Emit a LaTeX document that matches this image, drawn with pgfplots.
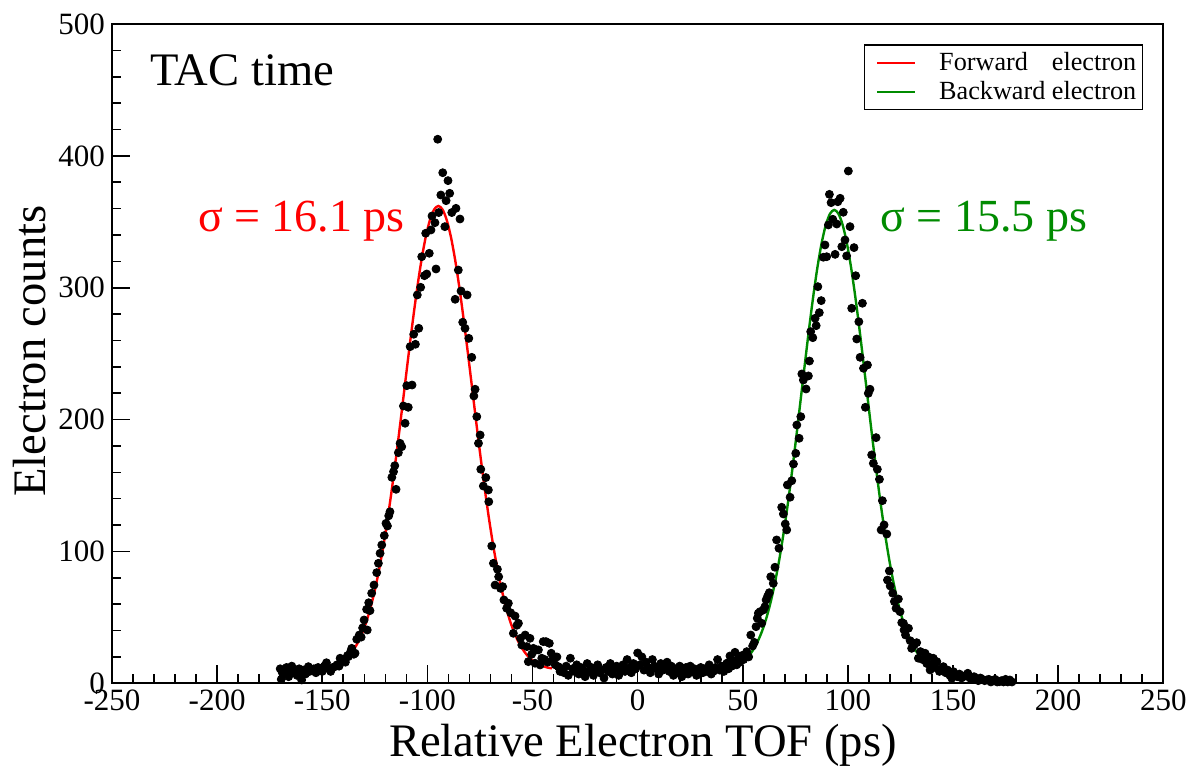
\documentclass[border=0pt]{standalone}
\usepackage{fontspec}
\setmainfont{Liberation Serif}
\usepackage{pgfplots}
\usepackage{pgfplotstable}
\pgfplotsset{compat=1.18}
\definecolor{fitred}{RGB}{255,0,0}
\definecolor{fitgreen}{RGB}{0,139,0}

\pgfplotstableread{
x y
-170 11
-169.5 3
-169 8
-168 7
-167 12
-166 5
-165 9
-164.5 13
-164 10
-163 8
-162 6
-161 11
-160 9
-159.8 2.5
-159 10
-158 7
-157 11
-156.6 12.6
-156 9
-155 10
-154 11
-153 8
-152 12
-151 10
-150 9
-149 13
-148 15.6
-147 11
-146 9
-145 12
-144 12.6
-143 14
-142 13
-141.5 19
-140 17
-139 16
-138 21
-137.6 20.2
-136.5 24
-136 26.5
-135 22
-134.4 22.8
-133.6 33.4
-132.4 36.6
-131.5 35
-130.8 42
-130.1 48
-128.9 56.1
-128.6 40.4
-127.9 61.1
-127.3 55.1
-126.5 68.3
-125.4 74.5
-124.1 83.9
-123.3 91.0
-122.5 98.6
-121.7 104.9
-120.5 112
-119.7 121.3
-119.0 119.3
-118.4 127
-117.8 130.1
-116.9 156.2
-116.1 160.5
-115.5 165
-114.9 147.1
-113.8 174.9
-113.0 182.0
-112.2 179.4
-111.4 210.3
-110.6 197.2
-109.8 225.7
-109.1 209.3
-108.2 255.3
-107.3 226.2
-106.5 264.7
-105.7 257.1
-104.8 294.5
-104.1 269.2
-103.2 300.3
-102.7 323.5
-101.4 309.1
-100.8 341.3
-100.3 310.4
-99.1 326.1
-98.3 343.8
-97.8 354.4
-96.4 349.3
-95.9 314.2
-95.1 412.6
-94.6 357.0
-93.6 370.3
-92.7 387.2
-91.7 346.3
-91.1 366.0
-90.2 381.2
-89.4 371.6
-88.4 357.0
-86.8 291.2
-86.4 360.2
-85.3 313.4
-84.5 352.1
-84.0 297.5
-83.2 273.8
-82.1 269.2
-81.1 294.5
-80.3 261.6
-78.9 247.2
-77.9 217.9
-77.3 223.0
-76.5 202.2
-75.7 182.0
-74.9 188.3
-74.6 162.3
-73.4 149.6
-72.2 156
-71.0 146.6
-70.8 137.7
-69.4 104.1
-68.6 91.0
-67.8 74.5
-66.7 86.5
-66.1 80.8
-65.2 72
-64.2 73.3
-63.6 63.2
-62.3 56.9
-61.5 60.7
-60.4 53.5
-59.1 37.9
-58.3 51.0
-57.4 44
-56.7 45.5
-55.7 34.1
-55.1 29.0
-53.5 36.6
-52.7 27.8
-52.0 16.4
-51.2 34.1
-50.4 22
-49.6 26.5
-48.8 15.2
-48.0 25.3
-47.2 25.3
-46.4 13.9
-45.6 19.0
-44.9 31.6
-44.2 18
-43.6 31.6
-42.8 16
-42.0 30.3
-41.1 22.8
-40.1 19.0
-39.2 14
-38.4 20
-37.7 12.6
-36.9 9
-36.1 10.6
-35 8
-34 13
-33 6
-32 19
-31 11
-30 9
-29 14
-28 7
-27 12
-26 10
-25 5
-24 15
-23 9
-22 12
-21 6
-20 11
-19 14
-18 8
-17 10
-16 4
-15 12
-14 9
-13 15
-12 7
-11 11
-10 13
-9 6
-8 10
-7 14
-6 9
-5 18
-4 12
-3 8
-2 15
-1 11
0 23
1 14
2 20
3 10
4 16
5 12
6 8
7 18
8 13
9 11
10 7
11 15
12 10
13 12
14 16
15 9
16 13
17 6
18 11
19 8
20 13
21 5
22 10
23 12
24 7
25 13
26 9
27 11
28 6
29 10
30 12
31 8
32 11
33 9
34 14
35 7
36 9
37 12
38 18
39 10
40 13
41 9
42.4 15.2
43.2 11
43.9 20.7
44.8 13
45.5 17
46.3 23.5
47.1 14
47.9 19.0
48.7 16
49.5 21
50.4 18
51.2 22
51.9 24.0
52.8 20
53.8 36.6
54.7 28.3
55.5 31
56.3 42.9
56.9 49.3
57.4 53.1
58.2 54.3
59.0 45.5
59.8 55.6
60.5 58
61.1 63.2
61.8 66
62.6 68.7
63.3 80.8
64.5 75.8
65.3 88
66.1 108.7
67.2 102.4
68.5 133.5
69.3 128.4
70.2 120.8
70.9 116.3
71.2 150.4
72.5 141.1
73.3 153.6
74.1 166.3
75.2 174.4
75.7 195.9
76.8 185.8
77.6 202.2
78.1 234.6
78.8 230.0
80.1 223.2
81.2 233.1
81.7 244.4
82.3 266.7
83.3 262.1
84.4 276.8
84.9 271.2
85.7 300.8
86.4 281.1
87.3 290.2
88.3 323.1
89.1 332.4
89.9 323.5
90.7 347.6
91.2 370.8
92.0 364.5
92.8 351.9
93.9 325.3
94.7 348.3
95.2 365.2
96.3 367.8
97.1 331.1
97.8 357.2
98.6 336.2
99.4 324.1
100.2 388.5
101.0 346.3
101.8 284.4
102.9 330.4
103.7 309.1
104.2 261.1
105.2 274.2
105.8 247.2
106.9 288.2
107.4 238.9
108.3 209.3
109.3 241.4
109.7 219.9
110.5 223.0
111.3 173.2
112.1 166.8
113.4 186.3
114.0 162.3
115.0 154.7
115.8 116.3
116.4 138.5
117.2 120.1
118.5 113.2
118.8 78.3
119.7 85.2
120.1 73.8
121.3 68.3
122.1 62
122.9 56.9
124.0 63.9
124.8 54.3
125.6 46.0
126.4 45.5
126.7 40.4
127.4 36.6
128.8 41.7
129.6 32.3
130.3 26.5
131.5 29
132.7 30.8
133.5 19.0
134.5 24
135.5 18
136.7 22.8
137.5 15
138.3 20
139.1 10.1
140.0 14
140.6 19.0
141.5 12
142.3 16.4
143.5 9
144.5 11
145.4 12.6
146.5 8
147.5 10
148.5 6
149.4 3.8
150.2 8.8
151 6
152 5
153 7
154 4
155 5
156 6
157 7.6
158 4
159 3
160 5
161 3.8
162 2
163 4
164 3
165 2
166 2.5
167 3
168 1
169 2
170 3
171 1
172 1.2
173 2
174 1
175 3
176 1
177 2.5
178 1
}\dotdata

\pgfplotstableread{
x y
-149.8 11.0
-148.8 11.3
-146.8 11.9
-144.8 12.8
-142.8 14.1
-140.8 15.9
-138.8 18.4
-136.8 21.7
-134.8 26.1
-132.8 31.7
-130.8 38.9
-128.8 47.8
-126.8 58.8
-124.8 72.0
-122.8 87.6
-120.8 105.5
-118.8 125.9
-116.8 148.4
-114.8 172.7
-112.8 198.4
-110.8 224.8
-108.8 251.2
-106.8 276.6
-104.8 300.2
-102.8 321.1
-100.8 338.4
-98.8 351.3
-96.8 359.3
-94.8 362.0
-92.8 359.3
-90.8 351.3
-88.8 338.4
-86.8 321.1
-84.8 300.2
-82.8 276.6
-80.8 251.2
-78.8 224.8
-76.8 198.4
-74.8 172.7
-72.8 148.4
-70.8 125.9
-68.8 105.5
-66.8 87.6
-64.8 72.0
-62.8 58.8
-60.8 47.8
-58.8 38.9
-56.8 31.7
-54.8 26.1
-52.8 21.7
-50.8 18.4
-48.8 15.9
-46.8 14.1
-44.8 12.8
-42.8 11.9
-40.8 11.3
}\redfit

\pgfplotstableread{
x y
39.5 10.3
41.5 10.8
43.5 11.4
45.5 12.4
47.5 13.8
49.5 15.7
51.5 18.4
53.5 22.0
55.5 26.8
57.5 33.1
59.5 41.0
61.5 51.0
63.5 63.2
65.5 77.9
67.5 95.1
69.5 114.9
71.5 137.1
73.5 161.5
75.5 187.6
77.5 214.7
79.5 241.9
81.5 268.5
83.5 293.3
85.5 315.4
87.5 333.8
89.5 347.6
91.5 356.1
93.5 359.0
95.5 356.1
97.5 347.6
99.5 333.8
101.5 315.4
103.5 293.3
105.5 268.5
107.5 241.9
109.5 214.7
111.5 187.6
113.5 161.5
115.5 137.1
117.5 114.9
119.5 95.1
121.5 77.9
123.5 63.2
125.5 51.0
127.5 41.0
129.5 33.1
131.5 26.8
133.5 22.0
135.5 18.4
137.5 15.7
139.5 13.8
141.5 12.4
143.5 11.4
145.5 10.8
147.5 10.3
149.5 10.0
}\greenfit

\begin{document}
\begin{tikzpicture}
\begin{axis}[name=ax, scale only axis, width=525.65bp, height=329.65bp,
  xmin=-250, xmax=250, ymin=0, ymax=500,
  xtick={-250,-200,...,250},
  xticklabels={-250,-200,-150,-100,-50,0,50,100,150,200,250},
  ytick={0,100,...,500},
  yticklabels={0,100,200,300,400,500},
  minor x tick num=4, minor y tick num=4,
  xtick pos=bottom, ytick pos=left, tick align=inside,
  major tick length=9bp, minor tick length=4.5bp,
  every tick/.style={black, line width=0.8bp},
  axis line style={black, line width=0.9bp},
  tick label style={font=\fontsize{15.5bp}{18bp}\selectfont},
  xlabel={Relative Electron TOF (ps)},
  ylabel={Electron counts},
  label style={font=\fontsize{23.3bp}{27bp}\selectfont},
  xlabel style={at={(axis description cs:0.505,-0.1113)}, anchor=base},
  ylabel style={at={(axis description cs:-0.0637,0.504)}, anchor=base},
  legend style={at={(0.981,0.969)}, anchor=north east, draw=black, line width=0.6bp,
    font=\fontsize{13.1bp}{15bp}\selectfont, inner xsep=1.2bp, inner ysep=1.6bp,
    row sep=0pt, cells={anchor=west}},
  legend image code/.code={\path[draw=none,fill=none] (-3bp,0bp) -- (31bp,0bp);
    \draw[#1, line width=1.2bp] (2bp,0bp) -- (21bp,0bp);},
]
\addplot[only marks, mark=*, mark size=2bp, black, forget plot] table {\dotdata};
\addplot[fitred, line width=1.2bp, smooth] table {\redfit};
\addlegendentry{Forward\hspace{0.916em}electron}
\addplot[fitgreen, line width=1.2bp, smooth] table {\greenfit};
\addlegendentry{Backward electron}
\node[anchor=base west, inner sep=0pt, font=\fontsize{23.3bp}{27bp}\selectfont] at (axis cs:-232,453.7) {TAC time};
\node[anchor=base east, inner sep=0pt, text=fitred, font=\fontsize{23bp}{27bp}\selectfont] at (axis cs:-110.6,342.5) {σ = 16.1 ps};
\node[anchor=base west, inner sep=0pt, text=fitgreen, font=\fontsize{23bp}{27bp}\selectfont] at (axis cs:115.3,342.5) {σ = 15.5 ps};
\end{axis}
\pgfresetboundingbox
\path[use as bounding box] ([shift={(-56bp,-41.85bp)}]ax.south west) rectangle ([shift={(15.35bp,12bp)}]ax.north east);
\end{tikzpicture}
\end{document}
